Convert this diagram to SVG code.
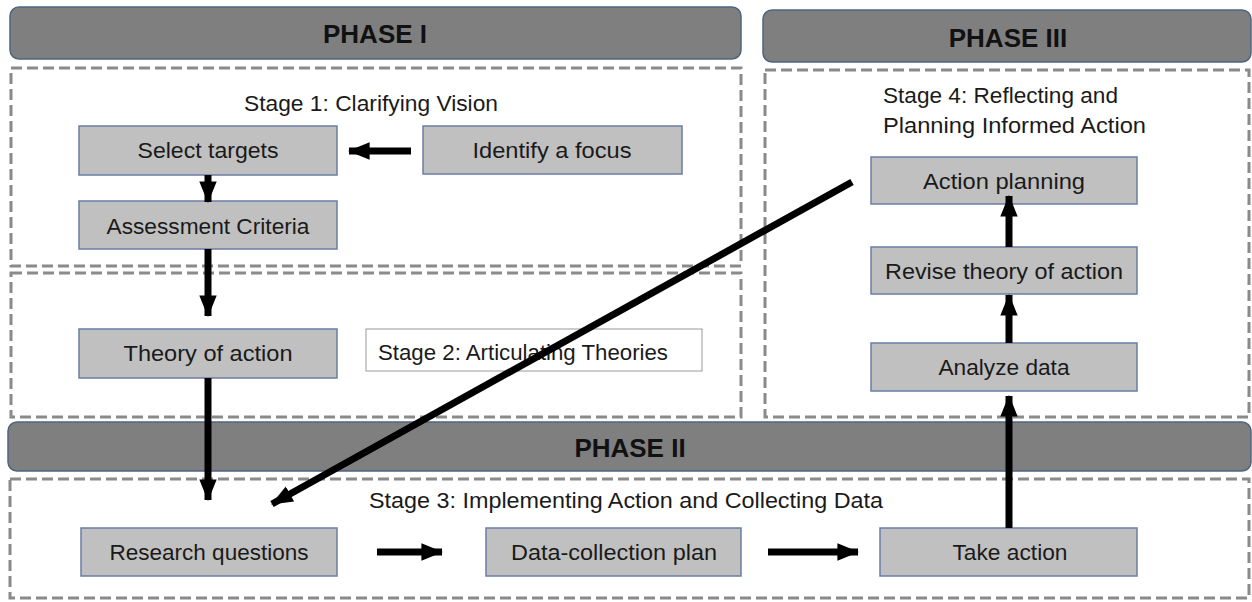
<svg xmlns="http://www.w3.org/2000/svg" width="1252" height="602" viewBox="0 0 1252 602">
<style>
.hdr{fill:#7f7f7f;stroke:#4f6480;stroke-width:1.5}
.hdrt{font-family:"Liberation Sans",Arial,sans-serif;font-weight:bold;font-size:26px;fill:#111;text-anchor:middle}
.stage{fill:none;stroke:#8a8a8a;stroke-width:3;stroke-dasharray:11 5}
.node{fill:#c0c0c0;stroke:#6b7ea6;stroke-width:1.5}
.nt{font-family:"Liberation Sans",Arial,sans-serif;font-size:22px;fill:#1a1a1a;text-anchor:middle}
.st{font-family:"Liberation Sans",Arial,sans-serif;font-size:22px;fill:#1a1a1a}
.conn{stroke:#000;stroke-width:7;fill:none}
</style>
<defs>
<marker id="ah" viewBox="0 0 10 8" refX="9.5" refY="4" markerWidth="3.1" markerHeight="2.5" orient="auto" markerUnits="strokeWidth">
<path d="M0,0 L10,4 L0,8 Z" fill="#000"/>
</marker>
</defs>
<rect width="1252" height="602" fill="#fff"/>

<g id="phase1">
<rect class="hdr" x="10" y="7" width="731" height="52" rx="9"/>
<text class="hdrt" x="375" y="43">PHASE I</text>
</g>
<g id="phase3">
<rect class="hdr" x="763" y="10" width="488" height="52" rx="9"/>
<text class="hdrt" x="1008" y="47">PHASE III</text>
</g>
<g id="stage1">
<rect class="stage" x="11" y="68" width="730" height="198"/>
<text class="st" x="244" y="111" textLength="254" lengthAdjust="spacingAndGlyphs">Stage 1: Clarifying Vision</text>
</g>
<g id="stage2">
<rect class="stage" x="11" y="273" width="730" height="144"/>
<rect x="366" y="329" width="336" height="42" fill="#fff" stroke="#9a9a9a" stroke-width="1"/>
<text class="st" x="378" y="360" textLength="290" lengthAdjust="spacingAndGlyphs">Stage 2: Articulating Theories</text>
</g>
<g id="stage4">
<rect class="stage" x="765" y="70" width="484" height="347"/>
<text class="st" x="883" y="103" textLength="235" lengthAdjust="spacingAndGlyphs">Stage 4: Reflecting and</text>
<text class="st" x="883" y="133" textLength="263" lengthAdjust="spacingAndGlyphs">Planning Informed Action</text>
</g>
<g id="phase2">
<rect class="hdr" x="8" y="422" width="1243" height="49" rx="9"/>
<text class="hdrt" x="630" y="457">PHASE II</text>
</g>
<g id="stage3">
<rect class="stage" x="10" y="479" width="1239" height="119"/>
<text class="st" x="369" y="508" textLength="514" lengthAdjust="spacingAndGlyphs">Stage 3: Implementing Action and Collecting Data</text>
</g>

<g id="select-targets"><rect class="node" x="79" y="126" width="258" height="49"/><text class="nt" x="208" y="158" textLength="141" lengthAdjust="spacingAndGlyphs">Select targets</text></g>
<g id="identify-focus"><rect class="node" x="423" y="126" width="259" height="48"/><text class="nt" x="552" y="158" textLength="159" lengthAdjust="spacingAndGlyphs">Identify a focus</text></g>
<g id="assessment"><rect class="node" x="79" y="201" width="258" height="48"/><text class="nt" x="208" y="234" textLength="203" lengthAdjust="spacingAndGlyphs">Assessment Criteria</text></g>
<g id="theory"><rect class="node" x="79" y="329" width="258" height="49"/><text class="nt" x="208" y="361" textLength="169" lengthAdjust="spacingAndGlyphs">Theory of action</text></g>
<g id="action-planning"><rect class="node" x="871" y="157" width="266" height="47"/><text class="nt" x="1004" y="189" textLength="162" lengthAdjust="spacingAndGlyphs">Action planning</text></g>
<g id="revise"><rect class="node" x="871" y="247" width="266" height="47"/><text class="nt" x="1004" y="279" textLength="238" lengthAdjust="spacingAndGlyphs">Revise theory of action</text></g>
<g id="analyze"><rect class="node" x="871" y="343" width="266" height="48"/><text class="nt" x="1004" y="375" textLength="131" lengthAdjust="spacingAndGlyphs">Analyze data</text></g>
<g id="research"><rect class="node" x="81" y="528" width="256" height="48"/><text class="nt" x="209" y="560" textLength="199" lengthAdjust="spacingAndGlyphs">Research questions</text></g>
<g id="data-plan"><rect class="node" x="486" y="528" width="255" height="48"/><text class="nt" x="614" y="560" textLength="206" lengthAdjust="spacingAndGlyphs">Data-collection plan</text></g>
<g id="take-action"><rect class="node" x="880" y="528" width="257" height="48"/><text class="nt" x="1010" y="560" textLength="115" lengthAdjust="spacingAndGlyphs">Take action</text></g>

<g id="connectors">
<line class="conn" x1="411" y1="151" x2="349" y2="151" marker-end="url(#ah)"/>
<line class="conn" x1="208" y1="175" x2="208" y2="202" marker-end="url(#ah)"/>
<line class="conn" x1="208" y1="249" x2="208" y2="316" marker-end="url(#ah)"/>
<line class="conn" x1="208" y1="378" x2="208" y2="500" marker-end="url(#ah)"/>
<line class="conn" x1="852" y1="182" x2="272" y2="504" marker-end="url(#ah)"/>
<line class="conn" x1="377" y1="552" x2="442" y2="552" marker-end="url(#ah)"/>
<line class="conn" x1="768" y1="552" x2="858" y2="552" marker-end="url(#ah)"/>
<line class="conn" x1="1009" y1="528" x2="1009" y2="396" marker-end="url(#ah)"/>
<line class="conn" x1="1009" y1="343" x2="1009" y2="295" marker-end="url(#ah)"/>
<line class="conn" x1="1009" y1="247" x2="1009" y2="196" marker-end="url(#ah)"/>
</g>
</svg>
